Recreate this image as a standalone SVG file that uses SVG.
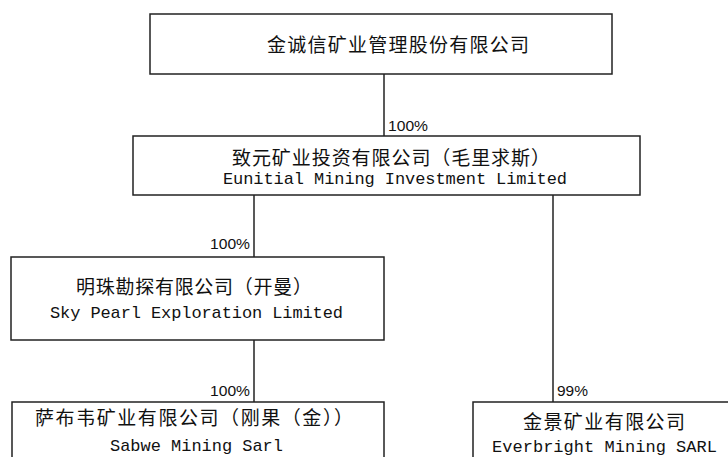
<svg xmlns="http://www.w3.org/2000/svg" width="728" height="457" viewBox="0 0 728 457">
<style>
.box{fill:#fff;stroke:#222;stroke-width:1.5}
.cn{font-family:"Noto Sans CJK SC",sans-serif;font-size:19px;fill:#111}
.en{font-family:"Liberation Mono",monospace;font-size:17px;fill:#111}
.pct{font-family:"Liberation Sans",sans-serif;font-size:14px;fill:#111}
.ln{stroke:#222;stroke-width:1.5;fill:none}
</style>
<rect width="728" height="457" fill="#fff"/>
<g id="connectors">
<line class="ln" x1="384" y1="74" x2="384" y2="136"/>
<line class="ln" x1="254" y1="195" x2="254" y2="257"/>
<line class="ln" x1="254" y1="340" x2="254" y2="402"/>
<line class="ln" x1="553" y1="195" x2="553" y2="402"/>
<text class="pct" x="388" y="131" textLength="40" lengthAdjust="spacingAndGlyphs">100%</text>
<text class="pct" x="210" y="249" textLength="40" lengthAdjust="spacingAndGlyphs">100%</text>
<text class="pct" x="210" y="396" textLength="40" lengthAdjust="spacingAndGlyphs">100%</text>
<text class="pct" x="557" y="396" textLength="31" lengthAdjust="spacingAndGlyphs">99%</text>
</g>
<g id="node-jcx">
<rect class="box" x="150" y="14" width="462" height="60"/>
<text class="cn" x="267" y="52" textLength="262" lengthAdjust="spacing">金诚信矿业管理股份有限公司</text>
</g>
<g id="node-eunitial">
<rect class="box" x="133" y="136" width="507" height="59"/>
<text class="cn" x="232" y="165" textLength="318" lengthAdjust="spacing">致元矿业投资有限公司（毛里求斯）</text>
<text class="en" x="223" y="184" textLength="344" lengthAdjust="spacing">Eunitial Mining Investment Limited</text>
</g>
<g id="node-skypearl">
<rect class="box" x="11" y="257" width="373" height="83"/>
<text class="cn" x="76" y="294" textLength="236" lengthAdjust="spacing">明珠勘探有限公司（开曼）</text>
<text class="en" x="50" y="318" textLength="293" lengthAdjust="spacing">Sky Pearl Exploration Limited</text>
</g>
<g id="node-sabwe">
<rect class="box" x="12" y="402" width="372" height="70"/>
<text class="cn" x="35" y="425" textLength="318" lengthAdjust="spacing">萨布韦矿业有限公司（刚果（金））</text>
<text class="en" x="110" y="451" textLength="173" lengthAdjust="spacing">Sabwe Mining Sarl</text>
</g>
<g id="node-everbright">
<rect class="box" x="473" y="402" width="270" height="70"/>
<text class="cn" x="523" y="429" textLength="162" lengthAdjust="spacing">金景矿业有限公司</text>
<text class="en" x="492" y="452" textLength="225" lengthAdjust="spacing">Everbright Mining SARL</text>
</g>
</svg>
